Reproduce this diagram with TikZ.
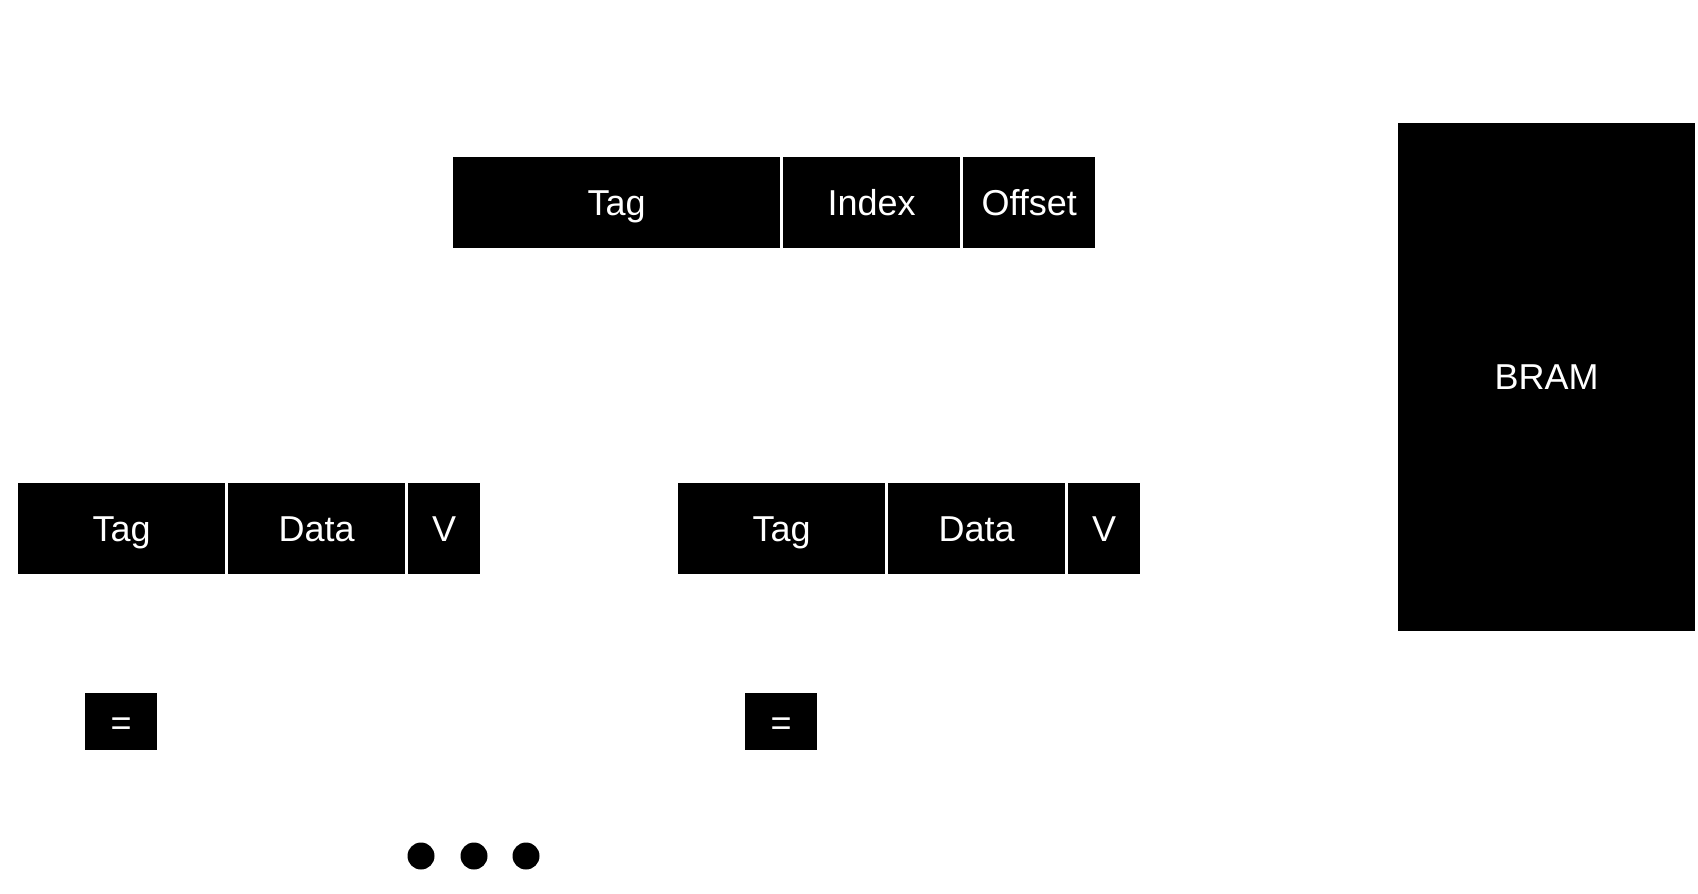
\documentclass[tikz,border=0pt]{standalone}
\usepackage{fontspec}
\setmainfont{Liberation Sans}
\begin{document}
\begin{tikzpicture}[x=1pt,y=-1pt,
  cell/.style={fill=black,draw=none,text=white,inner sep=0pt,anchor=north west,
    font=\fontsize{36}{43}\selectfont,text height=30pt,text depth=5pt},
  eqbox/.style={cell,text height=32pt,text depth=4pt},
  dot/.style={circle,fill=black,draw=none,inner sep=0pt,minimum size=27pt}]
\useasboundingbox (0,0) rectangle (1698,894);
% address
\node[cell,minimum width=327pt,minimum height=91pt] (aTag) at (453,157) {Tag};
\node[cell,minimum width=177pt,minimum height=91pt] (aIndex) at (783,157) {Index};
\node[cell,minimum width=132pt,minimum height=91pt] (aOffset) at (963,157) {Offset};
% entry 1
\node[cell,minimum width=207pt,minimum height=91pt] (eaTag) at (18,483) {Tag};
\node[cell,minimum width=177pt,minimum height=91pt] (eaData) at (228,483) {Data};
\node[cell,minimum width=72pt,minimum height=91pt] (eaV) at (408,483) {V};
% entry 2
\node[cell,minimum width=207pt,minimum height=91pt] (ebTag) at (678,483) {Tag};
\node[cell,minimum width=177pt,minimum height=91pt] (ebData) at (888,483) {Data};
\node[cell,minimum width=72pt,minimum height=91pt] (ebV) at (1068,483) {V};
% BRAM
\node[cell,minimum width=297pt,minimum height=508pt] (bram) at (1398,123) {BRAM};
% comparators
\node[eqbox,minimum width=72pt,minimum height=57pt] (eqa) at (85,693) {=};
\node[eqbox,minimum width=72pt,minimum height=57pt] (eqb) at (745,693) {=};
% dots
\node[dot] (d1) at (421,856) {};
\node[dot] (d2) at (474,856) {};
\node[dot] (d3) at (526,856) {};
\end{tikzpicture}
\end{document}
